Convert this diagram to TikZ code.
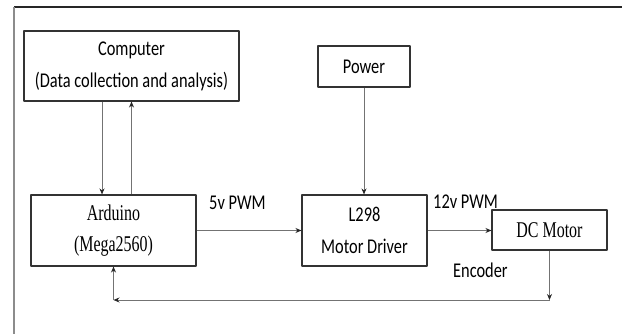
\documentclass[tikz,border=0pt]{standalone}
\usepackage{fontspec}
\newfontfamily\lblsans[FakeStretch=0.78]{Carlito}
\newfontfamily\lblserif[FakeStretch=0.71]{Liberation Serif}
\usetikzlibrary{arrows.meta,calc,positioning}
\tikzset{blk/.style={draw=black!80,line width=1.1pt,inner sep=0pt,align=center},
  wire/.style={black!55,line width=0.9pt},
  sanstxt/.style={font=\lblsans\fontsize{21}{32}\selectfont},
  seriftxt/.style={font=\lblserif\fontsize{22.5}{30.5}\selectfont},
  lbl/.style={sanstxt,anchor=base west,inner sep=0pt}}

\begin{document}
\begin{tikzpicture}[x=1pt,y=-1pt,>={Stealth[length=6pt,width=5pt,color=black!85]},line join=round]
\useasboundingbox (0,0) rectangle (622,334);
% --- page frame, only top and left edge show
\draw[black!85,line width=1.5pt] (14,7) -- (622,7);
\draw[black!45,line width=1.2pt] (14,7) -- (14,334);
% --- blocks
\node[blk,sanstxt,minimum width=215pt,minimum height=70pt] (comp) at (131.5,66) {Computer\\(Data collection and analysis)};
\node[blk,seriftxt,minimum width=165pt,minimum height=71pt] (ard) at (113.5,230.5) {Arduino\\(Mega2560)};
\node[blk,sanstxt,minimum width=92pt,minimum height=41pt] (pwr) at (364,66.5) {Power};
\node[blk,sanstxt,minimum width=125pt,minimum height=71pt] (drv) at (364.5,230.5) {L298\\Motor Driver};
\node[blk,seriftxt,minimum width=115pt,minimum height=40pt] (mot) at (549.5,230) {DC Motor};
% --- computer link
\coordinate (dn) at ([xshift=-11.5pt]ard.north);
\draw[wire,->] (dn |- comp.south) -- (dn);
\draw[wire,->] (ard.north -| comp.south) -- (comp.south);
% --- power and drive signals
\draw[wire,->] (pwr.south) -- (pwr.south |- drv.north);
\draw[wire,->] (ard.east) -- (drv.west);
\draw[wire,->] (drv.east) -- (drv.east -| mot.west);
\node[lbl] (lpwm5) at (209,210) {5v PWM};
\node[lbl] (lpwm12) at (433,209) {12v PWM};
% --- encoder feedback
\coordinate (fbr) at (mot.south |- 0,300);
\coordinate (fbl) at (ard.south |- fbr);
\draw[wire,->] (mot.south) -- (fbr);
\draw[wire,->] (fbr) -- (fbl);
\draw[wire,->] (fbl) -- (ard.south);
\node[lbl] (lenc) at (453,277) {Encoder};
\end{tikzpicture}
\end{document}
